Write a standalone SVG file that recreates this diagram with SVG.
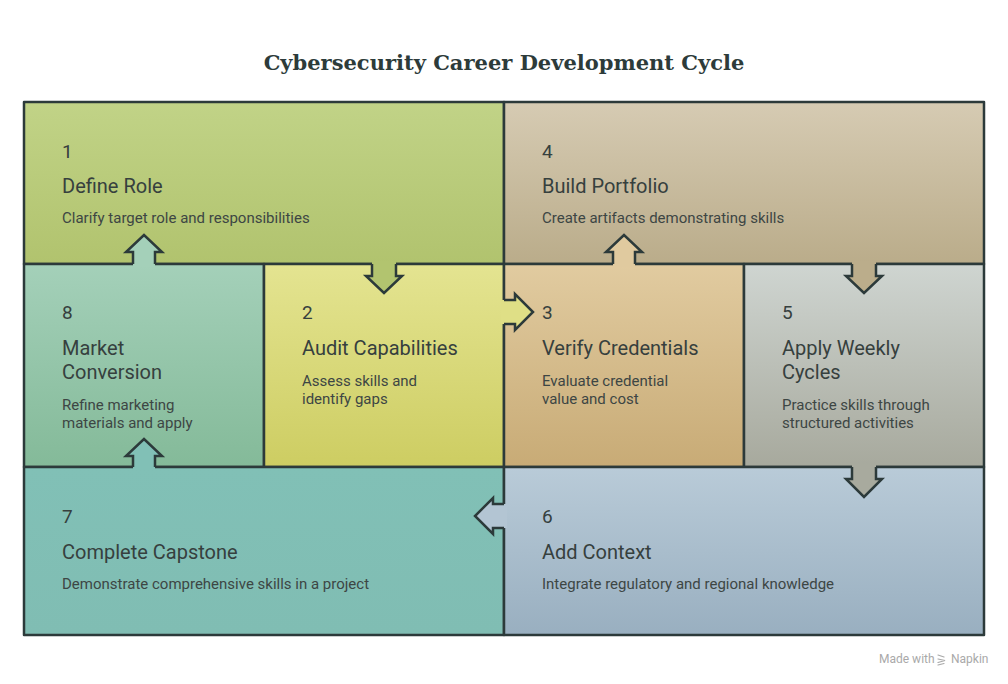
<svg xmlns="http://www.w3.org/2000/svg" width="1008" height="684" viewBox="0 0 1008 684">
<defs>
<linearGradient id="gDefine" x1="0" y1="0" x2="0" y2="1"><stop offset="0" stop-color="#c1d387"/><stop offset="1" stop-color="#b1c36e"/></linearGradient>
<linearGradient id="gBuild" x1="0" y1="0" x2="0" y2="1"><stop offset="0" stop-color="#d6cbb3"/><stop offset="1" stop-color="#baac8a"/></linearGradient>
<linearGradient id="gMarket" x1="0" y1="0" x2="0" y2="1"><stop offset="0" stop-color="#a4d0b9"/><stop offset="1" stop-color="#84ba99"/></linearGradient>
<linearGradient id="gAudit" x1="0" y1="0" x2="0" y2="1"><stop offset="0" stop-color="#e4e491"/><stop offset="1" stop-color="#cdcd62"/></linearGradient>
<linearGradient id="gVerify" x1="0" y1="0" x2="0" y2="1"><stop offset="0" stop-color="#e1cba0"/><stop offset="1" stop-color="#c8ab76"/></linearGradient>
<linearGradient id="gApply" x1="0" y1="0" x2="0" y2="1"><stop offset="0" stop-color="#cfd5d1"/><stop offset="1" stop-color="#a7a99d"/></linearGradient>
<linearGradient id="gCap" x1="0" y1="0" x2="0" y2="1"><stop offset="0" stop-color="#81c0b6"/><stop offset="1" stop-color="#80bdb3"/></linearGradient>
<linearGradient id="gCtx" x1="0" y1="0" x2="0" y2="1"><stop offset="0" stop-color="#b9cbd8"/><stop offset="1" stop-color="#99afc0"/></linearGradient>
</defs>
<style>
.box{stroke:#2c3a3a;stroke-width:2.5;stroke-linejoin:round}
.num{font-family:Roboto,"Liberation Sans",sans-serif;font-size:19px;fill:#36403e}
.ttl{font-family:Roboto,"Liberation Sans",sans-serif;font-size:20px;fill:#36403e}
.dsc{font-family:Roboto,"Liberation Sans",sans-serif;font-size:15px;fill:#3d4644}
.title{font-family:"DejaVu Serif","Liberation Serif",serif;font-weight:bold;font-size:21px;fill:#2d3b3a}
.arrFill{stroke:none}
.arrLine{fill:none;stroke:#2c3a3a;stroke-width:2.5;stroke-linejoin:miter}
.wm{font-family:Roboto,"Liberation Sans",sans-serif;font-size:12px;fill:#a9a9a9}
</style>
<rect width="1008" height="684" fill="#ffffff"/>
<text class="title" x="504" y="70" text-anchor="middle">Cybersecurity Career Development Cycle</text>

<g id="node-define-role">
<rect class="box" x="24" y="102" width="480" height="162" fill="url(#gDefine)"/>
<text class="num" x="62" y="158">1</text>
<text class="ttl" x="62" y="193">Define Role</text>
<text class="dsc" x="62" y="223">Clarify target role and responsibilities</text>
</g>
<g id="node-build-portfolio">
<rect class="box" x="504" y="102" width="480" height="162" fill="url(#gBuild)"/>
<text class="num" x="542" y="158">4</text>
<text class="ttl" x="542" y="193">Build Portfolio</text>
<text class="dsc" x="542" y="223">Create artifacts demonstrating skills</text>
</g>
<g id="node-market-conversion">
<rect class="box" x="24" y="264" width="240" height="203" fill="url(#gMarket)"/>
<text class="num" x="62" y="319">8</text>
<text class="ttl" x="62" y="355">Market</text>
<text class="ttl" x="62" y="379">Conversion</text>
<text class="dsc" x="62" y="410">Refine marketing</text>
<text class="dsc" x="62" y="428">materials and apply</text>
</g>
<g id="node-audit-capabilities">
<rect class="box" x="264" y="264" width="240" height="203" fill="url(#gAudit)"/>
<text class="num" x="302" y="319">2</text>
<text class="ttl" x="302" y="355">Audit Capabilities</text>
<text class="dsc" x="302" y="386">Assess skills and</text>
<text class="dsc" x="302" y="404">identify gaps</text>
</g>
<g id="node-verify-credentials">
<rect class="box" x="504" y="264" width="240" height="203" fill="url(#gVerify)"/>
<text class="num" x="542" y="319">3</text>
<text class="ttl" x="542" y="355">Verify Credentials</text>
<text class="dsc" x="542" y="386">Evaluate credential</text>
<text class="dsc" x="542" y="404">value and cost</text>
</g>
<g id="node-apply-weekly-cycles">
<rect class="box" x="744" y="264" width="240" height="203" fill="url(#gApply)"/>
<text class="num" x="782" y="319">5</text>
<text class="ttl" x="782" y="355">Apply Weekly</text>
<text class="ttl" x="782" y="379">Cycles</text>
<text class="dsc" x="782" y="410">Practice skills through</text>
<text class="dsc" x="782" y="428">structured activities</text>
</g>
<g id="node-complete-capstone">
<rect class="box" x="24" y="467" width="480" height="168" fill="url(#gCap)"/>
<text class="num" x="62" y="523">7</text>
<text class="ttl" x="62" y="559">Complete Capstone</text>
<text class="dsc" x="62" y="589">Demonstrate comprehensive skills in a project</text>
</g>
<g id="node-add-context">
<rect class="box" x="504" y="467" width="480" height="168" fill="url(#gCtx)"/>
<text class="num" x="542" y="523">6</text>
<text class="ttl" x="542" y="559">Add Context</text>
<text class="dsc" x="542" y="589">Integrate regulatory and regional knowledge</text>
</g>

<g id="connectors">
<polygon class="arrFill" fill="#a4d0b9" points="133,267 133,252 126,252 144,235 162,252 155,252 155,267"/>
<polyline class="arrLine" points="133,264 133,252 126,252 144,235 162,252 155,252 155,264"/>
<polygon class="arrFill" fill="#b2c46f" points="372,261 372,276 366,276 384,293 402,276 396,276 396,261"/>
<polyline class="arrLine" points="372,264 372,276 366,276 384,293 402,276 396,276 396,264"/>
<polygon class="arrFill" fill="#dfdf86" points="501,300 515,300 515,294 533,312 515,330 515,324 501,324"/>
<polyline class="arrLine" points="504,300 515,300 515,294 533,312 515,330 515,324 504,324"/>
<polygon class="arrFill" fill="#e0ca9f" points="613,267 613,252 606,252 624,235 642,252 635,252 635,267"/>
<polyline class="arrLine" points="613,264 613,252 606,252 624,235 642,252 635,252 635,264"/>
<polygon class="arrFill" fill="#bbad8b" points="852,261 852,276 846,276 864,293 882,276 876,276 876,261"/>
<polyline class="arrLine" points="852,264 852,276 846,276 864,293 882,276 876,276 876,264"/>
<polygon class="arrFill" fill="#a8aa9e" points="852,464 852,479 846,479 864,497 882,479 876,479 876,464"/>
<polyline class="arrLine" points="852,467 852,479 846,479 864,497 882,479 876,479 876,467"/>
<polygon class="arrFill" fill="#b3c5d3" points="507,504 493,504 493,498 475,516 493,534 493,528 507,528"/>
<polyline class="arrLine" points="504,504 493,504 493,498 475,516 493,534 493,528 504,528"/>
<polygon class="arrFill" fill="#81c0b6" points="133,470 133,456 126,456 144,439 162,456 155,456 155,470"/>
<polyline class="arrLine" points="133,467 133,456 126,456 144,439 162,456 155,456 155,467"/>
</g>

<g id="watermark">
<text class="wm" x="879" y="663">Made with</text>
<path d="M938,655 l6,2 M938,659 l7,1.5 l-7,2 M938,665 l6,-1.5" fill="none" stroke="#a9a9a9" stroke-width="1.2" stroke-linecap="round"/>
<text class="wm" x="951" y="663">Napkin</text>
</g>
</svg>
